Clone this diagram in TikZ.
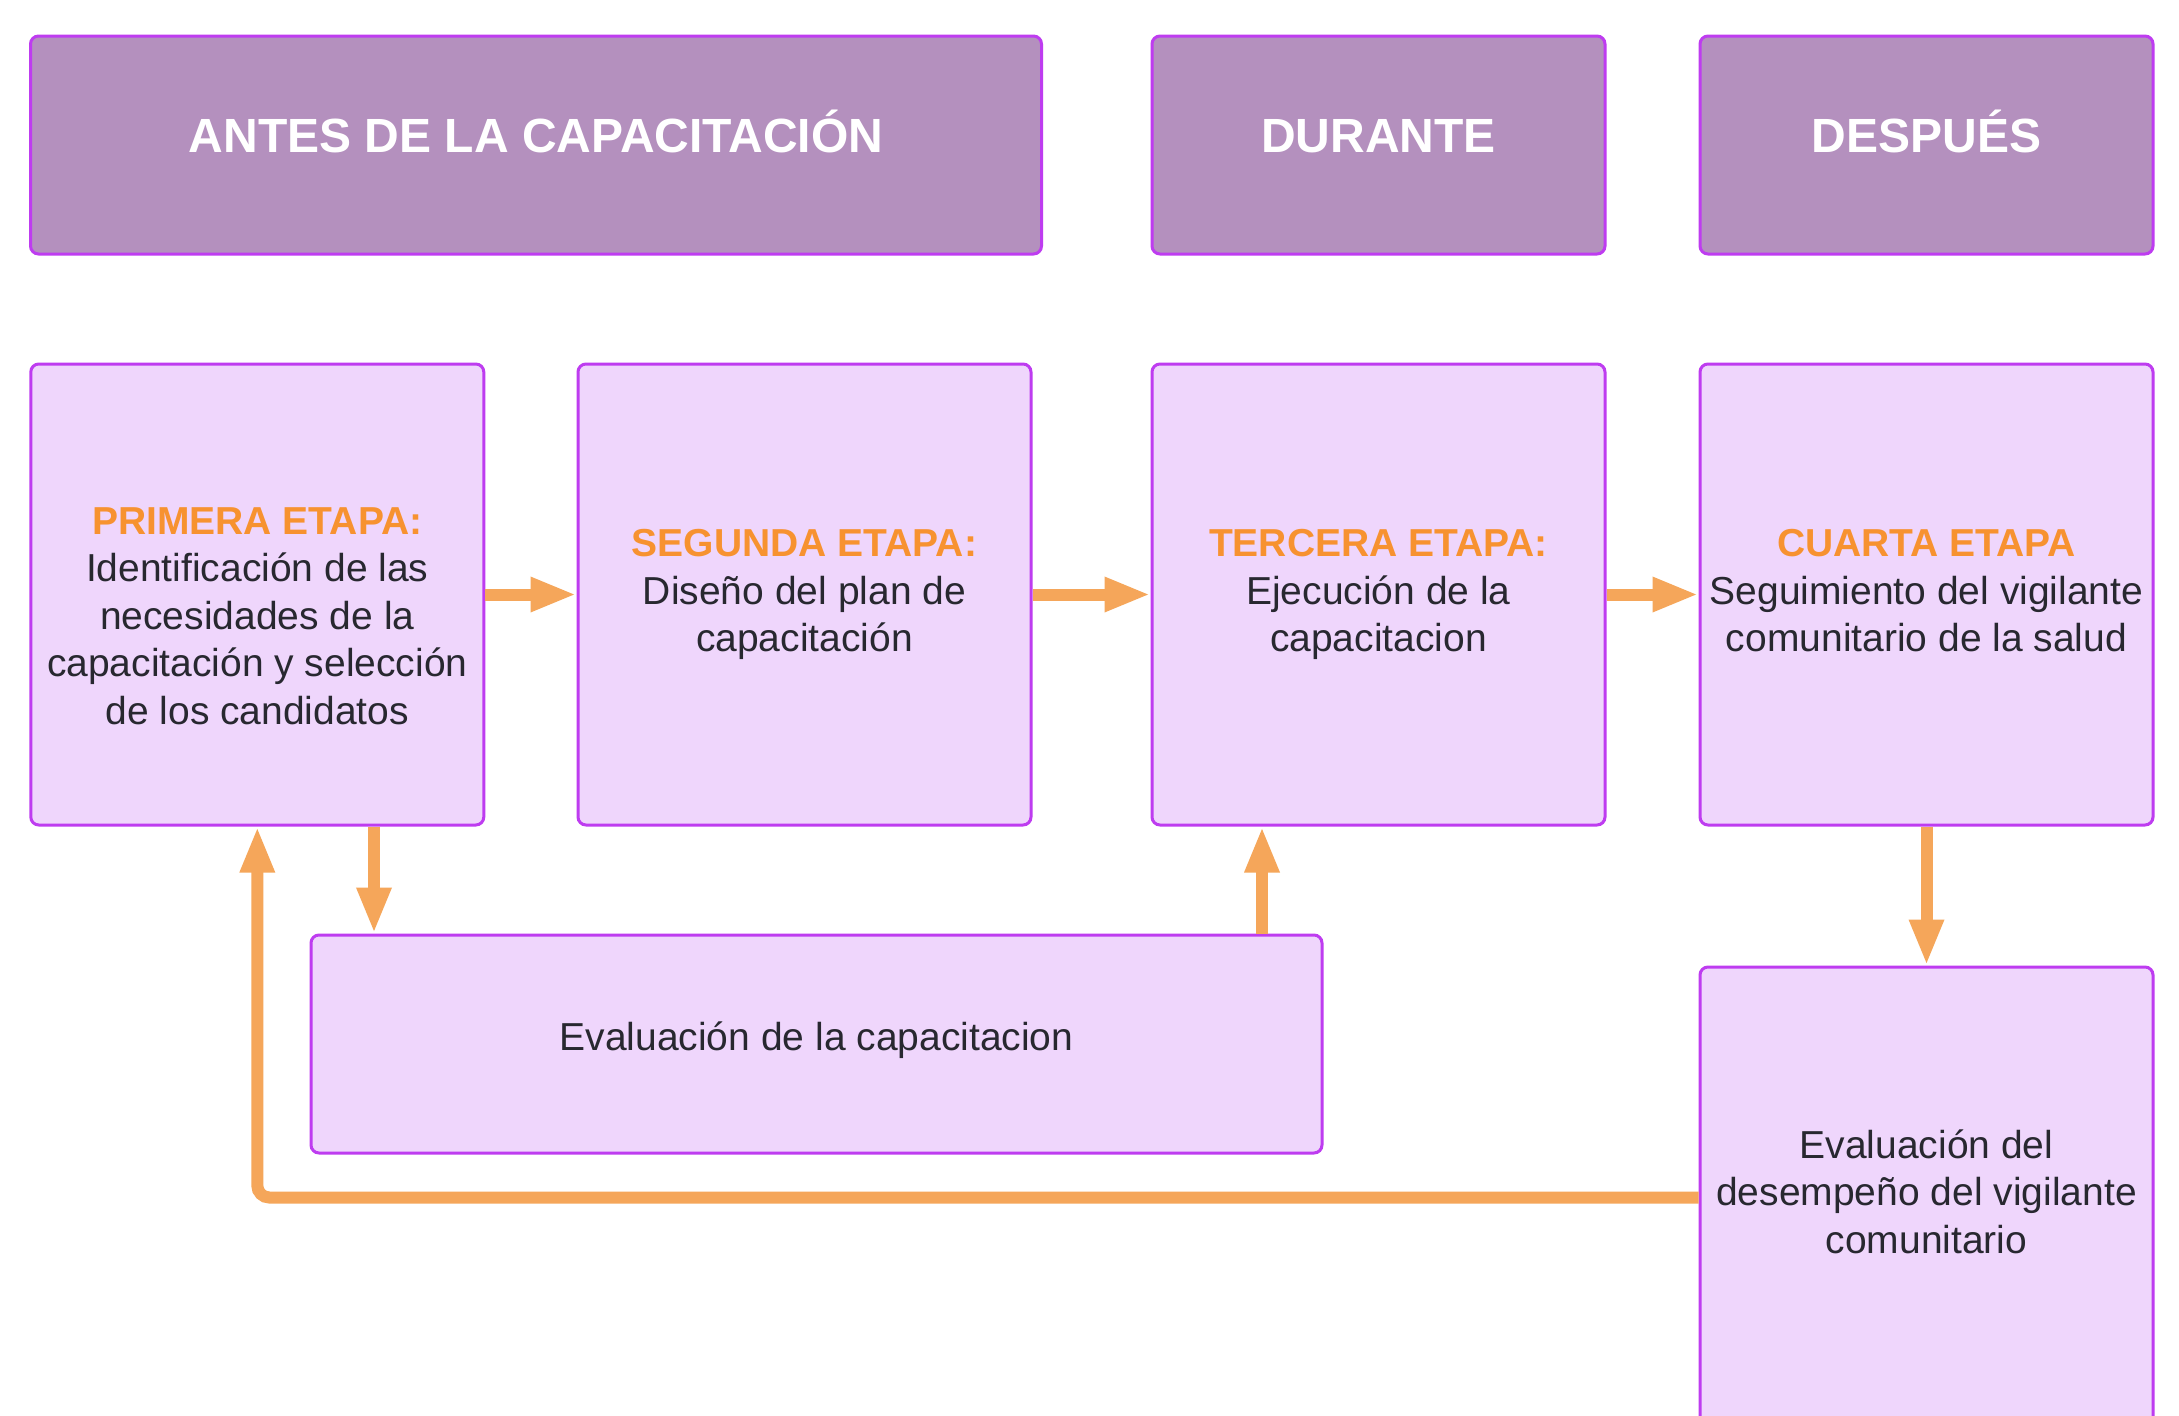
\documentclass[tikz,border=0pt]{standalone}
\usepackage{fontspec}
\setmainfont{Liberation Sans}
\usetikzlibrary{arrows.meta}
\definecolor{hdrfill}{RGB}{180,144,190}
\definecolor{bord}{RGB}{190,60,240}
\definecolor{boxfill}{RGB}{239,214,252}
\definecolor{orng}{RGB}{247,146,48}
\definecolor{arr}{RGB}{245,166,90}
\definecolor{txt}{RGB}{40,40,48}
\begin{document}
\begin{tikzpicture}[x=1pt,y=-1pt,
  hdr/.style={draw=bord, line width=3pt, fill=hdrfill, rounded corners=8pt,
    text=white, font=\fontsize{48}{57}\selectfont\bfseries, inner sep=0pt,
    minimum height=218pt, text height=34pt, text depth=20pt},
  stagebox/.style={draw=bord, line width=3pt, fill=boxfill, rounded corners=8pt,
    text=txt, align=center, font=\fontsize{39}{47.5}\selectfont, inner sep=0pt,
    minimum width=453pt, minimum height=461pt},
  evalbox/.style={stagebox, minimum width=1011pt, minimum height=218pt},
  conn/.style={draw=arr, line width=12pt, -{Triangle[width=32pt,length=46pt]}},
  etapa/.style={text=orng, font=\bfseries}
]
\fill[white] (0,0) rectangle (2179,1416);
\useasboundingbox (0,0) rectangle (2179,1416);
\clip (0,0) rectangle (2179,1416);

% headers
\node[hdr, minimum width=1011pt] (h1) at (536,145) {ANTES DE LA CAPACITACIÓN};
\node[hdr, minimum width=453pt] (h2) at (1378.5,145) {DURANTE};
\node[hdr, minimum width=453pt] (h3) at (1926.5,145) {DESPUÉS};

% stage boxes
\node[stagebox] (b1) at (257.3,594.5)
  {\rule{0pt}{70pt}{\color{orng}\bfseries PRIMERA ETAPA:}\\Identificación de las\\necesidades de la\\capacitación y selección\\de los candidatos};
\node[stagebox] (b2) at (804.5,594.5)
  {{\color{orng}\bfseries SEGUNDA ETAPA:}\\Diseño del plan de\\capacitación};
\node[stagebox] (b3) at (1378.5,594.5)
  {{\color{orng}\bfseries TERCERA ETAPA:}\\Ejecución de la\\capacitacion};
\node[stagebox] (b4) at (1926.5,594.5)
  {{\color{orng}\bfseries CUARTA ETAPA}\\Seguimiento del vigilante\\comunitario de la salud\rule[-8pt]{0pt}{0pt}};

\node[evalbox] (ev) at (816.5,1044) {Evaluación de la capacitacion\rule[-16pt]{0pt}{0pt}};
\node[stagebox] (b5) at (1926.5,1197.5)
  {Evaluación del\\desempeño del vigilante\\comunitario\rule[-12pt]{0pt}{0pt}};

% connectors
\draw[conn] (b1.east) -- (b2.west);
\draw[conn] (b2.east) -- (b3.west);
\draw[conn] (b3.east) -- (b4.west);
\draw[conn] ([xshift=116.7pt]b1.south) -- ([xshift=116.7pt]b1.south |- ev.north);
\draw[conn] ([xshift=445.5pt]ev.north) -- ([xshift=445.5pt]ev.north |- b3.south);
\draw[conn] (b4.south) -- (b5.north);
\draw[conn, rounded corners=12pt] (b5.west) -| (b1.south);
\end{tikzpicture}
\end{document}
